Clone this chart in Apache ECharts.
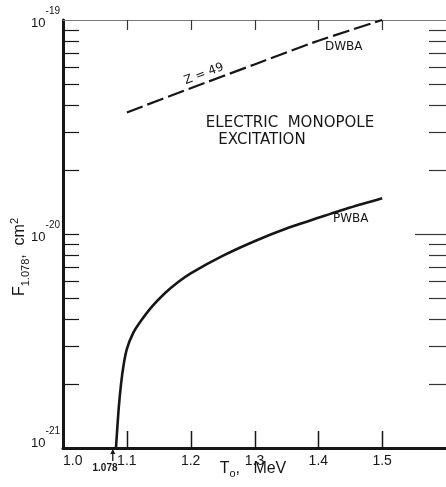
<!DOCTYPE html>
<html>
<head>
<meta charset="utf-8">
<script src="https://cdn.jsdelivr.net/npm/echarts@6/dist/echarts.min.js"></script>
<style>
  html, body { margin: 0; padding: 0; background: #fff; }
  #chart { width: 446px; height: 487px; }
</style>
</head>
<body>
<div id="chart"></div>
<script>
// Bombarding energy T0 (MeV) against monopole excitation cross section F (cm^2)
const X_MIN = 1.0;
const X_MAX = 1.6;
const xTickValues = [1.1, 1.2, 1.3, 1.4, 1.5];
const xTickLabels = ['1.0', '1.1', '1.2', '1.3', '1.4', '1.5'];
const yDecades = [1e-21, 1e-20, 1e-19];
const yDecadeExponents = ['-21', '-20', '-19'];

// Plane-wave Born approximation
const pwbaEnergy = [1.083, 1.087, 1.091, 1.095, 1.10, 1.11, 1.12, 1.14, 1.16, 1.18, 1.20, 1.25, 1.30, 1.35, 1.40, 1.45, 1.50];
const pwbaSigma  = [1.0e-21, 1.5e-21, 2.0e-21, 2.45e-21, 2.9e-21, 3.45e-21, 3.85e-21, 4.6e-21, 5.3e-21, 5.95e-21, 6.55e-21, 7.9e-21, 9.25e-21, 1.06e-20, 1.19e-20, 1.33e-20, 1.47e-20];

// Distorted-wave Born approximation, Z = 49
const dwbaEnergy = [1.10, 1.20, 1.30, 1.40, 1.50];
const dwbaSigma  = [3.7e-20, 4.8e-20, 6.2e-20, 8.0e-20, 1.0e-19];

// Reaction threshold marked under the axis
const threshold = 1.078;

// Intermediate ticks on the logarithmic axis
const minorTickValues = [
  2e-21, 3e-21, 4e-21, 5e-21, 6e-21, 7e-21, 8e-21, 9e-21,
  1e-20,
  2e-20, 3e-20, 4e-20, 5e-20, 6e-20, 7e-20, 8e-20, 9e-20
];

const INK = '#161616';
const FONT = '"Liberation Sans", Arial, sans-serif';
const LETTER = '"DejaVu Sans", "Liberation Sans", sans-serif';

const chart = echarts.init(document.getElementById('chart'), null, { renderer: 'canvas', width: 446, height: 487 });

const grid = { left: 63, top: 20, width: 383, height: 428, containLabel: false, outerBoundsMode: 'none' };

function isDecade(v) {
  return yDecades.some(d => Math.abs(v / d - 1) < 1e-6);
}

const option = {
  backgroundColor: '#fff',
  animation: false,
  grid: grid,
  xAxis: [
    {
      type: 'value', min: X_MIN, max: X_MAX, interval: 0.1, position: 'bottom',
      axisLine: { onZero: false, lineStyle: { color: INK, width: 3 } },
      axisTick: { show: false },
      splitLine: { show: false },
      axisLabel: {
        margin: 6, color: INK, fontFamily: FONT, fontSize: 14, alignMinLabel: 'left',
        hideOverlap: false,
        formatter: v => {
          const s = v.toFixed(1);
          return xTickLabels.indexOf(s) >= 0 ? s : '';
        }
      }
    },
    {
      type: 'value', min: X_MIN, max: X_MAX, interval: 0.1, position: 'top',
      axisLine: { show: true, onZero: false, lineStyle: { color: '#777', width: 1 } },
      axisTick: { show: false },
      splitLine: { show: false },
      axisLabel: { show: false }
    }
  ],
  yAxis: [
    {
      type: 'log', logBase: 10, min: 1e-21, max: 1e-19, position: 'left',
      axisLine: { onZero: false, lineStyle: { color: INK, width: 3 } },
      axisTick: { show: false },
      splitLine: { show: false },
      minorTick: { show: false },
      axisLabel: { show: false }
    },
    {
      type: 'log', logBase: 10, min: 1e-21, max: 1e-19, position: 'right',
      axisLine: { show: true, onZero: false, lineStyle: { color: '#888', width: 1 } },
      axisTick: { show: false },
      splitLine: { show: false },
      axisLabel: { show: false }
    }
  ],
  series: [
    {
      name: 'PWBA', type: 'line', xAxisIndex: 0, yAxisIndex: 0,
      data: pwbaEnergy.map((e, i) => [e, pwbaSigma[i]]),
      showSymbol: false, smooth: 0.25,
      lineStyle: { color: INK, width: 2.6 },
      z: 5
    },
    {
      name: 'DWBA', type: 'line', xAxisIndex: 0, yAxisIndex: 0,
      data: dwbaEnergy.map((e, i) => [e, dwbaSigma[i]]),
      showSymbol: false, smooth: 0.2,
      lineStyle: { color: INK, width: 2.2, type: [17, 5] },
      z: 5
    },
    {
      // intermediate ticks on both vertical axes
      name: 'yticks', type: 'custom', xAxisIndex: 0, yAxisIndex: 0,
      silent: true, clip: false,
      data: minorTickValues.map(v => [X_MIN, v]),
      renderItem: (params, api) => {
        const v = api.value(1);
        const pl = api.coord([X_MIN, v]);
        const pr = api.coord([X_MAX, v]);
        const y = Math.round(pl[1]) + 0.5;
        const rightLen = isDecade(v) ? 31 : 17;
        return {
          type: 'group',
          children: [
            { type: 'line', shape: { x1: pl[0], y1: y, x2: pl[0] + 16, y2: y },
              style: { stroke: INK, lineWidth: 1.2 } },
            { type: 'line', shape: { x1: pr[0] - rightLen, y1: y, x2: pr[0], y2: y },
              style: { stroke: '#333', lineWidth: 1.2 } }
          ]
        };
      },
      z: 4
    },
    {
      // energy ticks on the lower and upper edges
      name: 'xticks', type: 'custom', xAxisIndex: 0, yAxisIndex: 0,
      silent: true, clip: false,
      data: xTickValues.map(v => [v, 1e-21]),
      renderItem: (params, api) => {
        const x = Math.round(api.coord([api.value(0), 1e-21])[0]) + 0.5;
        const yb = api.coord([X_MIN, 1e-21])[1];
        const yt = api.coord([X_MIN, 1e-19])[1];
        return {
          type: 'group',
          children: [
            { type: 'line', shape: { x1: x, y1: yb, x2: x, y2: yb - 17 },
              style: { stroke: INK, lineWidth: 1.5 } },
            { type: 'line', shape: { x1: x, y1: yt, x2: x, y2: yt + 10 },
              style: { stroke: '#333', lineWidth: 1.2 } }
          ]
        };
      },
      z: 4
    },
    {
      // decade labels, 10 with a raised exponent
      name: 'ylabels', type: 'custom', xAxisIndex: 0, yAxisIndex: 0,
      silent: true, clip: false,
      data: yDecades.map((v, i) => [X_MIN, v, i]),
      renderItem: (params, api) => {
        const i = api.value(2);
        const p = api.coord([X_MIN, api.value(1)]);
        const lift = i === 0 ? -10 : -2;
        return {
          type: 'text',
          x: p[0] - 3,
          y: p[1] + lift,
          style: {
            text: '{b|10}{s|' + yDecadeExponents[i] + '}',
            align: 'right', verticalAlign: 'middle', fill: INK,
            rich: {
              b: { fontSize: 13, fontFamily: FONT, fill: INK, verticalAlign: 'bottom', lineHeight: 24 },
              s: { fontSize: 10, fontFamily: FONT, fill: INK, verticalAlign: 'top', lineHeight: 24 }
            }
          }
        };
      },
      z: 4
    },
    {
      // keeps the upper energy axis attached to the plot
      name: 'top', type: 'line', xAxisIndex: 1, yAxisIndex: 1,
      data: [], silent: true
    }
  ]
};

chart.setOption(option);

// Annotations: curve names, title block, axis titles and the threshold arrow
const tx = chart.convertToPixel({ xAxisIndex: 0 }, threshold);
const axisY = grid.top + grid.height;

chart.setOption({
  graphic: [
    { type: 'text', left: 325, top: 41,
      style: { text: 'DWBA', font: '12px ' + LETTER, fill: INK } },
    { type: 'text', left: 333, top: 213,
      style: { text: 'PWBA', font: '12px ' + LETTER, fill: INK } },
    { type: 'text', x: 204, y: 74, rotation: 0.36,
      style: { text: 'Z = 49', font: '12px ' + LETTER, fill: INK, align: 'center', verticalAlign: 'middle' } },
    { type: 'text', x: 290, y: 123,
      style: { text: 'ELECTRIC  MONOPOLE', font: '15px ' + LETTER, fill: INK, align: 'center', verticalAlign: 'middle' } },
    { type: 'text', x: 262, y: 140,
      style: { text: 'EXCITATION', font: '15px ' + LETTER, fill: INK, align: 'center', verticalAlign: 'middle' } },
    { type: 'text', x: 105, y: 468,
      style: { text: '1.078', font: 'bold 10px ' + FONT, fill: INK, align: 'center', verticalAlign: 'middle' } },
    { type: 'line', shape: { x1: tx, y1: axisY + 13, x2: tx, y2: axisY + 4 },
      style: { stroke: INK, lineWidth: 1.3 } },
    { type: 'polygon', shape: { points: [[tx, axisY + 1], [tx - 2.5, axisY + 6], [tx + 2.5, axisY + 6]] },
      style: { fill: INK } },
    { type: 'text', x: 253, y: 469,
      style: {
        text: '{t|T}{o|o}{t|,   MeV}', fill: INK, align: 'center', verticalAlign: 'middle',
        rich: {
          t: { fontFamily: FONT, fontSize: 16, fill: INK, verticalAlign: 'middle', lineHeight: 20 },
          o: { fontFamily: FONT, fontSize: 11, fill: INK, verticalAlign: 'bottom', lineHeight: 20 }
        }
      } },
    { type: 'text', x: 20, y: 257, rotation: Math.PI / 2,
      style: {
        text: '{f|F}{sub|1.078}{f|,  cm}{sup|2}', fill: INK, align: 'center', verticalAlign: 'middle',
        rich: {
          f: { fontFamily: FONT, fontSize: 16, fill: INK, verticalAlign: 'middle', lineHeight: 22 },
          sub: { fontFamily: FONT, fontSize: 11, fill: INK, verticalAlign: 'bottom', lineHeight: 22 },
          sup: { fontFamily: FONT, fontSize: 11, fill: INK, verticalAlign: 'top', lineHeight: 22 }
        }
      } }
  ]
});
</script>
</body>
</html>
